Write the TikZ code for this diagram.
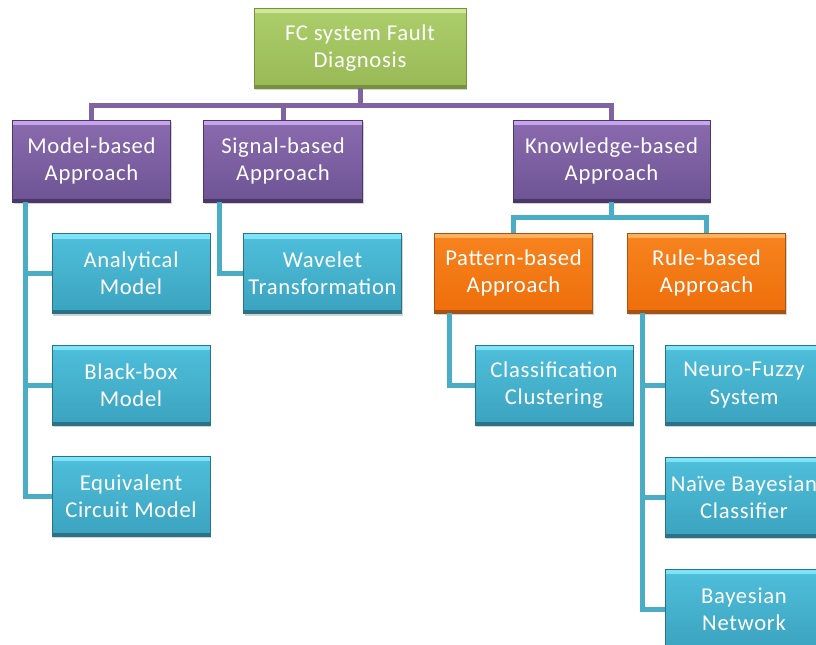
\documentclass[tikz,border=0pt]{standalone}
\usepackage{fontspec}
\setmainfont{Carlito}[LetterSpace=3]
\usetikzlibrary{calc,shadows}

\definecolor{linkpurple}{HTML}{8064A2}
\definecolor{linkblue}{HTML}{4BACC6}
\definecolor{greentop}{HTML}{ADCF6B}
\definecolor{greenbot}{HTML}{98B955}
\definecolor{greenlight}{HTML}{CFE79A}
\definecolor{greendark}{HTML}{76923C}
\definecolor{purpletop}{HTML}{8A6BAE}
\definecolor{purplebot}{HTML}{6E5494}
\definecolor{purplelight}{HTML}{C6A5EE}
\definecolor{purpledark}{HTML}{4A3868}
\definecolor{orangetop}{HTML}{F7841F}
\definecolor{orangebot}{HTML}{EE6E0A}
\definecolor{orangelight}{HTML}{FBB05E}
\definecolor{orangedark}{HTML}{A65212}
\definecolor{bluetop}{HTML}{4FBFDB}
\definecolor{bluebot}{HTML}{3BA3BF}
\definecolor{bluelight}{HTML}{7FE4F7}
\definecolor{bluedark}{HTML}{2A7287}

\tikzset{
  bevelbox/.style={%
    draw=#1dark, line width=0.6pt, top color=#1top, bottom color=#1bot,
    text=white, align=center, inner sep=0pt,
    font=\fontsize{17}{20.5}\selectfont,
    drop shadow={shadow xshift=1pt, shadow yshift=-1.5pt, opacity=0.35},
    path picture={
      \fill[#1light] (path picture bounding box.north west)
        rectangle ([yshift=-4pt]path picture bounding box.north east);
      \fill[#1dark] (path picture bounding box.south west)
        rectangle ([yshift=2.5pt]path picture bounding box.south east);
    }},
  rootbox/.style={bevelbox=green, minimum width=159pt, minimum height=60pt},
  purplebox/.style={bevelbox=purple, minimum width=119pt, minimum height=61.5pt},
  orangebox/.style={bevelbox=orange, minimum width=118.5pt, minimum height=60pt},
  bluebox/.style={bevelbox=blue, minimum width=118.5pt, minimum height=60pt},
  toplink/.style={draw=linkpurple, line width=3.75pt},
  sublink/.style={draw=linkblue, line width=3.75pt}
}

\begin{document}
\begin{tikzpicture}[x=0.75pt, y=-0.75pt]

    % Picture frame
    \useasboundingbox (0,0) rectangle (816,644);
    \clip (0,0) rectangle (816,644);

    % Where the bars branch
    \coordinate (topbar) at (360,105);
    \coordinate (kbar) at (611.5,217);

    % Root
    \node[rootbox] (root) at (360,48) {FC system Fault\\Diagnosis};

    % First level approaches
    \node[purplebox] (model) at (91.5,161) {Model-based\\Approach};
    \node[purplebox] (signal) at (283,161) {Signal-based\\Approach};
    \node[purplebox, minimum width=147.75pt] (knowledge) at (611.5,161) {Knowledge-based\\Approach};

    % Knowledge-based split
    \node[orangebox] (pattern) at (513.5,273) {Pattern-based\\Approach};
    \node[orangebox] (rule) at (706.5,273) {Rule-based\\Approach};

    % Model-based methods
    \node[bluebox] (analytic) at (131,273.5) {Analytical\\Model};
    \node[bluebox] (blackbox) at (131,385) {Black-box\\Model};
    \node[bluebox] (equiv) at (131,496) {Equivalent\\Circuit Model};

    % Signal-based method
    \node[bluebox] (wavelet) at (322.5,273.5) {Wavelet\\Transformation};

    % Pattern-based method
    \node[bluebox] (classif) at (554,385) {Classification\\Clustering};

    % Rule-based methods
    \node[bluebox] (neuro) at (744,385) {Neuro-Fuzzy\\System};
    \node[bluebox] (naive) at (744,497) {Naïve Bayesian\\Classifier};
    \node[bluebox] (bnet) at (744,609) {Bayesian\\Network};

    % Purple tree lines
    \draw[toplink] (root.south) -- (topbar) -| (model.north);
    \draw[toplink] (topbar) -| (signal.north);
    \draw[toplink] (topbar) -| (knowledge.north);

    % Blue tree lines
    \draw[sublink] (knowledge.south) -- (kbar) -| (pattern.north);
    \draw[sublink] (kbar) -| (rule.north);

    \draw[sublink] ($(model.south west)+(14,0)$) |- (analytic.west);
    \draw[sublink] ($(model.south west)+(14,0)$) |- (blackbox.west);
    \draw[sublink] ($(model.south west)+(14,0)$) |- (equiv.west);

    \draw[sublink] ($(signal.south west)+(16,0)$) |- (wavelet.west);

    \draw[sublink] ($(pattern.south west)+(15,0)$) |- (classif.west);

    \draw[sublink] ($(rule.south west)+(15,0)$) |- (neuro.west);
    \draw[sublink] ($(rule.south west)+(15,0)$) |- (naive.west);
    \draw[sublink] ($(rule.south west)+(15,0)$) |- (bnet.west);

\end{tikzpicture}
\end{document}
